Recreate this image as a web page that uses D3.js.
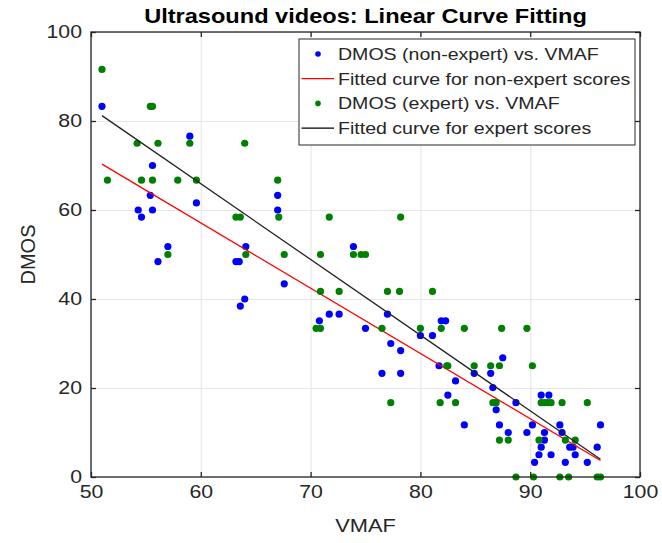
<!DOCTYPE html>
<html>
<head>
<meta charset="utf-8">
<script src="https://cdn.jsdelivr.net/npm/d3@7"></script>
<style>
  body { margin: 0; background: #fff; }
  svg text { font-family: "Liberation Sans", Arial, sans-serif; fill: #262626; }
</style>
</head>
<body>
<div id="chart"></div>
<script>
(function () {

  // DMOS (non-expert) vs. VMAF -- [vmaf, dmos]
  var nonExpert = [
    [51.0, 83.3], [59.0, 76.6], [55.6, 70.0], [55.4, 63.3], [59.6, 61.6], [67.0, 63.3],
    [54.3, 60.0], [55.6, 60.0], [67.0, 60.0], [54.6, 58.4], [57.0, 51.8], [56.1, 48.4],
    [64.1, 51.8], [63.2, 48.4], [63.5, 48.4], [67.6, 43.4], [64.0, 40.0], [63.6, 38.4],
    [73.9, 51.8], [71.7, 36.6], [72.6, 36.6], [70.8, 35.1], [77.0, 36.6], [75.0, 33.4],
    [77.3, 30.0], [78.2, 28.4], [80.0, 31.8], [81.1, 31.8], [81.9, 35.1], [82.3, 35.1],
    [76.5, 23.3], [78.2, 23.3], [81.7, 25.0], [87.5, 26.8], [86.4, 23.3], [84.9, 23.3],
    [83.2, 21.6], [86.6, 20.1], [82.5, 18.4], [86.9, 15.1], [88.7, 16.7], [91.0, 18.4],
    [91.7, 18.4], [84.0, 11.7], [87.2, 11.7], [88.0, 10.0], [89.7, 10.0], [90.2, 11.7],
    [91.3, 10.0], [92.7, 11.7], [92.9, 10.0], [96.4, 11.7], [91.3, 8.3], [91.0, 6.7],
    [90.8, 5.0], [90.4, 3.3], [91.9, 5.0], [93.6, 6.7], [93.9, 6.7], [94.1, 5.0],
    [93.2, 3.3], [95.2, 3.3], [96.1, 6.7]
  ]

  // DMOS (expert) vs. VMAF
  var expert = [
    [51.0, 91.6], [55.4, 83.3], [55.6, 83.3], [54.2, 75.0], [56.1, 75.0], [59.0, 75.0],
    [64.0, 75.0], [51.5, 66.7], [54.6, 66.7], [55.6, 66.7], [57.9, 66.7], [59.6, 66.7],
    [67.0, 66.7], [63.2, 58.4], [63.6, 58.4], [67.1, 58.4], [57.0, 50.0], [64.1, 50.0],
    [67.6, 50.0], [71.7, 58.4], [78.2, 58.4], [70.9, 50.0], [73.9, 50.0], [74.6, 50.0],
    [75.0, 50.0], [70.9, 41.7], [72.6, 41.7], [77.0, 41.7], [78.1, 41.7], [81.1, 41.7],
    [70.5, 33.4], [70.9, 33.4], [76.5, 33.4], [80.0, 33.4], [81.9, 33.4], [84.0, 33.4],
    [87.4, 33.4], [89.7, 33.4], [77.3, 16.7], [82.4, 25.0], [82.5, 25.0], [84.9, 25.0],
    [86.4, 25.0], [87.2, 25.0], [90.2, 25.0], [81.8, 16.7], [83.2, 16.7], [86.6, 16.7],
    [86.9, 16.7], [91.0, 16.7], [91.3, 16.7], [91.6, 16.7], [91.9, 16.7], [92.9, 16.7],
    [95.2, 16.7], [87.2, 8.3], [88.0, 8.3], [90.8, 8.3], [93.2, 8.3], [94.1, 8.3],
    [88.7, 0], [90.3, 0], [92.7, 0], [93.5, 0], [96.1, 0], [96.4, 0]
  ]

  // fitted lines, end points
  var fitX = [51.0, 96.4]
  var fitNonExpert = [70.3, 3.7]
  var fitExpert = [81.2, 4.0]

  var xTicks = [50, 60, 70, 80, 90, 100]
  var yTicks = [0, 20, 40, 60, 80, 100]

  var legendItems = [
    { label: "DMOS (non-expert) vs. VMAF", type: "dot", color: "#0000ff" },
    { label: "Fitted curve for non-expert scores", type: "line", color: "#ff0000" },
    { label: "DMOS (expert) vs. VMAF", type: "dot", color: "#008000" },
    { label: "Fitted curve for expert scores", type: "line", color: "#000000" }
  ]

  var margin = { top: 32, left: 91, right: 22, bottom: 66 },
      width = 662 - margin.left - margin.right,
      height = 543 - margin.top - margin.bottom

  // the original text is a bit wider than Liberation Sans
  function stretch(sel, k) {
    sel.each(function() {
      this.setAttribute("textLength", this.getComputedTextLength() * k)
      this.setAttribute("lengthAdjust", "spacingAndGlyphs")
    })
  }

  var root = d3.select("#chart")
    .append("svg")
    .attr("width", 662)
    .attr("height", 543)

  var svg = root.append("g")
    .attr("transform", "translate(" + margin.left + "," + margin.top + ")")

  var x = d3.scaleLinear().domain([50, 100]).range([0, width])
  var y = d3.scaleLinear().domain([0, 100]).range([height, 0])

  // grid
  svg.append("g")
    .attr("class", "grid")
    .attr("transform", "translate(0," + height + ")")
    .call(d3.axisBottom(x).tickValues(xTicks).tickSize(-height).tickFormat(""))
  svg.append("g")
    .attr("class", "grid")
    .call(d3.axisLeft(y).tickValues(yTicks).tickSize(-width).tickFormat(""))
  svg.selectAll(".grid .domain").remove()
  svg.selectAll(".grid line").attr("stroke", "#e8e8e8").attr("stroke-width", 1.2)

  // points + lines (plot order: blue, red, green, black)
  svg.selectAll(".ne")
    .data(nonExpert)
    .enter().append("circle")
    .attr("class", "ne")
    .attr("cx", function(d) { return x(d[0]) })
    .attr("cy", function(d) { return y(d[1]) })
    .attr("r", 3.6)
    .attr("fill", "#0000ff")

  var line = d3.line()
    .x(function(d) { return x(d[0]) })
    .y(function(d) { return y(d[1]) })

  svg.append("path")
    .datum(fitX.map(function(v, i) { return [v, fitNonExpert[i]] }))
    .attr("d", line)
    .attr("fill", "none")
    .attr("stroke", "#ff0000")
    .attr("stroke-width", 1.3)

  svg.selectAll(".ex")
    .data(expert)
    .enter().append("circle")
    .attr("class", "ex")
    .attr("cx", function(d) { return x(d[0]) })
    .attr("cy", function(d) { return y(d[1]) })
    .attr("r", 3.6)
    .attr("fill", "#008000")

  svg.append("path")
    .datum(fitX.map(function(v, i) { return [v, fitExpert[i]] }))
    .attr("d", line)
    .attr("fill", "none")
    .attr("stroke", "#222")
    .attr("stroke-width", 1.3)

  // axes, ticks pointing in
  var xAxis = d3.axisBottom(x).tickValues(xTicks).tickSizeInner(-5).tickSizeOuter(0).tickPadding(8)
  svg.append("g")
    .attr("class", "axis")
    .attr("transform", "translate(0," + height + ")")
    .call(xAxis)
  svg.append("g")
    .attr("class", "axis")
    .call(d3.axisTop(x).tickValues(xTicks).tickSizeInner(-5).tickSizeOuter(0).tickFormat(""))
  svg.append("g")
    .attr("class", "axis")
    .call(d3.axisLeft(y).tickValues(yTicks).tickSizeInner(-5).tickSizeOuter(0).tickPadding(9))
  svg.append("g")
    .attr("class", "axis")
    .attr("transform", "translate(" + width + ",0)")
    .call(d3.axisRight(y).tickValues(yTicks).tickSizeInner(-5).tickSizeOuter(0).tickFormat(""))

  svg.selectAll(".axis .domain").remove()
  svg.selectAll(".axis line").attr("stroke", "#262626").attr("stroke-width", 1.3)
  svg.selectAll(".axis text")
    .attr("fill", "#262626")
    .style("font-size", "18.5px")
    .call(stretch, 1.15)

  svg.append("rect")
    .attr("width", width)
    .attr("height", height)
    .attr("fill", "none")
    .attr("stroke", "#262626")
    .attr("stroke-width", 1.3)

  // labels
  svg.append("text")
    .attr("x", width / 2)
    .attr("y", -9)
    .attr("text-anchor", "middle")
    .style("font-size", "20.5px")
    .style("font-weight", "bold")
    .style("fill", "#000")
    .text("Ultrasound videos: Linear Curve Fitting")
    .call(stretch, 1.15)

  svg.append("text")
    .attr("x", width / 2)
    .attr("y", height + 55)
    .attr("text-anchor", "middle")
    .style("font-size", "19px")
    .text("VMAF")
    .call(stretch, 1.15)

  svg.append("text")
    .attr("transform", "translate(-56," + (height / 2) + ") rotate(-90)")
    .attr("text-anchor", "middle")
    .style("font-size", "20px")
    .text("DMOS")

  // legend
  var legend = svg.append("g")
    .attr("transform", "translate(" + (x(50) + 208) + "," + 7 + ")")

  legend.append("rect")
    .attr("width", 336)
    .attr("height", 106)
    .attr("fill", "#fff")
    .attr("stroke", "#262626")
    .attr("stroke-width", 1)

  var rows = legend.selectAll(".row")
    .data(legendItems)
    .enter().append("g")
    .attr("transform", function(d, i) { return "translate(0," + (15 + i * 24.7) + ")" })

  rows.filter(function(d) { return d.type == "dot" })
    .append("circle")
    .attr("cx", 19)
    .attr("r", 2.8)
    .attr("fill", function(d) { return d.color })

  rows.filter(function(d) { return d.type == "line" })
    .append("line")
    .attr("x1", 2.5).attr("x2", 35)
    .attr("stroke", function(d) { return d.color })
    .attr("stroke-width", 1.2)

  rows.append("text")
    .attr("x", 39)
    .attr("dy", "0.35em")
    .style("font-size", "17px")
    .text(function(d) { return d.label })
    .call(stretch, 1.15)

})()
</script>
</body>
</html>
